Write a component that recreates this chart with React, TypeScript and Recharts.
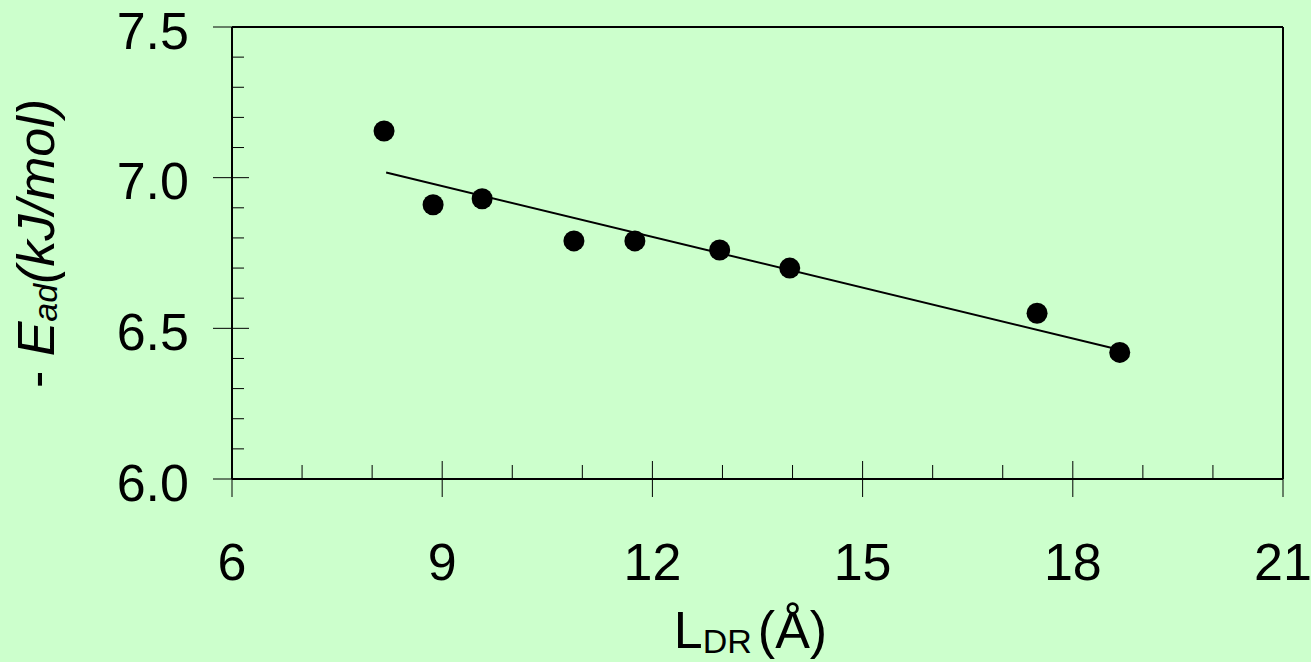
import { ScatterChart, Scatter, XAxis, YAxis, ReferenceLine } from "recharts";

// measured points: L_DR (Å) vs -E_ad (kJ/mol)
const lengths = [8.17, 8.87, 9.57, 10.88, 11.75, 12.96, 13.96, 17.49, 18.67];
const energies = [7.155, 6.91, 6.93, 6.79, 6.79, 6.76, 6.7, 6.55, 6.42];

// linear fit endpoints
const fitX = [8.2, 18.65];
const fitY = [7.017, 6.43];

const xTicks = [6, 7, 8, 9, 10, 11, 12, 13, 14, 15, 16, 17, 18, 19, 20, 21];
const yTicks = [6.0, 6.1, 6.2, 6.3, 6.4, 6.5, 6.6, 6.7, 6.8, 6.9, 7.0, 7.1, 7.2, 7.3, 7.4, 7.5];

const points = lengths.map((x, i) => ({ x, y: energies[i] }));
const fit = fitX.map((x, i) => ({ x, y: fitY[i] }));

const FONT = "'Liberation Sans', Arial, sans-serif";
const BG = "#ccffcc";

function XTick({ x, y, payload }: any) {
  const v = payload.value as number;
  const major = v % 3 === 0;
  if (!major) return <line x1={x} x2={x} y1={y - 14} y2={y} stroke="#000" strokeWidth={1} />;
  return (
    <g>
      <line x1={x} x2={x} y1={y - 18} y2={y + 18} stroke="#000" strokeWidth={1} />
      <text x={x} y={y + 101} textAnchor="middle" fontFamily={FONT} fontSize={52} fill="#000">
        {v}
      </text>
    </g>
  );
}

function YTick({ x, y, payload }: any) {
  const v = payload.value as number;
  const major = Math.abs(v * 2 - Math.round(v * 2)) < 1e-6;
  if (!major) return <line x1={x} x2={x + 12} y1={y} y2={y} stroke="#000" strokeWidth={1} />;
  return (
    <g>
      <line x1={x - 19} x2={x + 17} y1={y} y2={y} stroke="#000" strokeWidth={1} />
      <text x={x - 43} y={y + 21.5} textAnchor="end" fontFamily={FONT} fontSize={52} fill="#000">
        {v.toFixed(1)}
      </text>
    </g>
  );
}

function XTitle({ viewBox }: any) {
  const cx = viewBox.x + viewBox.width / 2 - 7;
  return (
    <text x={cx} y={viewBox.y + 169} textAnchor="middle" fontFamily={FONT} fontSize={52} fill="#000">
      <tspan>L</tspan>
      <tspan fontSize={34} dy={5}>DR</tspan>
      <tspan dy={-5} dx={6}>(Å)</tspan>
    </text>
  );
}

function YTitle({ viewBox }: any) {
  const bx = viewBox.x + 54;
  const cy = 243.5;
  return (
    <text
      x={bx}
      y={cy}
      transform={`rotate(-90, ${bx}, ${cy})`}
      textAnchor="middle"
      fontFamily={FONT}
      fontSize={52}
      fill="#000"
    >
      <tspan>- </tspan>
      <tspan fontStyle="italic">E</tspan>
      <tspan fontStyle="italic" fontSize={34} dy={3}>ad</tspan>
      <tspan fontStyle="italic" dy={-3}>(kJ/mol)</tspan>
    </text>
  );
}

export default function App() {
  return (
    <div style={{ width: 1311, height: 662, background: BG }}>
      <style>{`body { margin: 0; }`}</style>
      <ScatterChart width={1311} height={662} margin={{ top: 27, right: 28, bottom: 0, left: 0 }}>
        <XAxis
          type="number"
          dataKey="x"
          domain={[6, 21]}
          ticks={xTicks}
          interval={0}
          height={183}
          tickSize={0}
          tickMargin={0}
          tickLine={false}
          tick={<XTick />}
          axisLine={{ stroke: "#000", strokeWidth: 2 }}
          label={<XTitle />}
        />
        <YAxis
          type="number"
          dataKey="y"
          domain={[6, 7.5]}
          ticks={yTicks}
          interval={0}
          width={232}
          tickSize={0}
          tickMargin={0}
          tickLine={false}
          tick={<YTick />}
          axisLine={{ stroke: "#000", strokeWidth: 2 }}
          label={<YTitle />}
        />
        <ReferenceLine y={7.5} stroke="#000" strokeWidth={2} />
        <ReferenceLine x={21} stroke="#000" strokeWidth={2} />
        <Scatter
          data={fit}
          line={{ stroke: "#000", strokeWidth: 2 }}
          shape={() => <g />}
          isAnimationActive={false}
        />
        <Scatter
          data={points}
          shape={(p: any) => <circle cx={p.cx} cy={p.cy} r={10.5} fill="#000" />}
          isAnimationActive={false}
        />
      </ScatterChart>
    </div>
  );
}
